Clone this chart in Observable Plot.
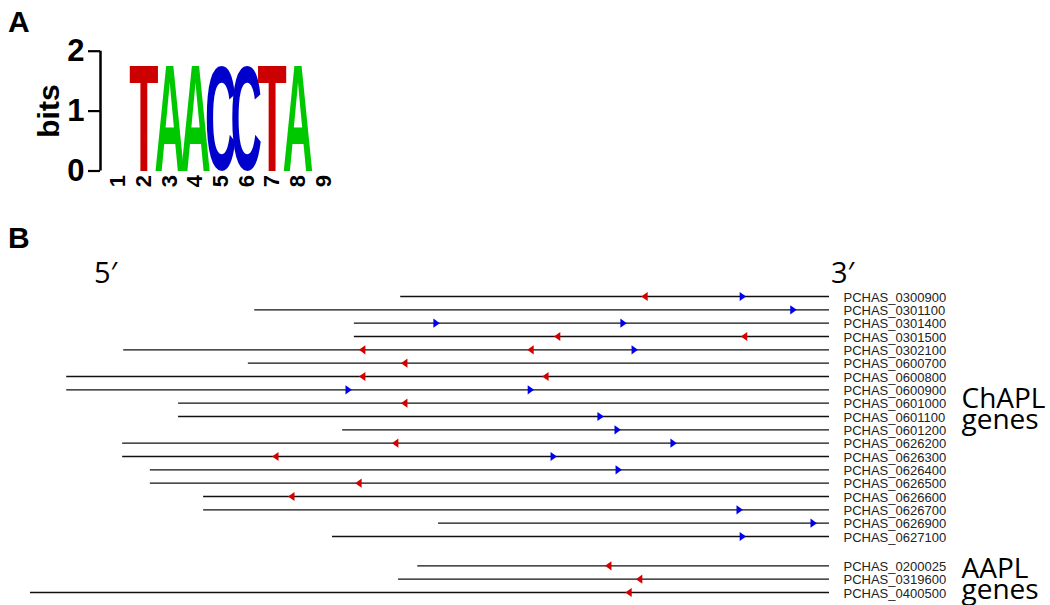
<!DOCTYPE html>
<html><head><meta charset="utf-8">
<script src="https://cdn.jsdelivr.net/npm/d3@7"></script>
<script src="https://cdn.jsdelivr.net/npm/@observablehq/plot@0.6"></script>
<style>
body{margin:0;background:#fff;}
#root{position:relative;width:1050px;height:605px;overflow:hidden;background:#fff;}
.abs{position:absolute;white-space:nowrap;}
.panel{font:bold 30px "Liberation Sans",Arial,sans-serif;line-height:30px;color:#000;}
.prime{font:29px "Open Sans",sans-serif;line-height:29px;color:#000;}
</style></head><body><div id="root"></div>
<script>
// ---------- Panel A: sequence logo ----------
const logoPositions = [1,2,3,4,5,6,7,8,9];
const logoLetterPos = [2,3,4,5,6,7,8];
const logoLetters   = ["T","A","A","C","C","T","A"];
const logoBits      = [1.77,1.77,1.77,1.76,1.76,1.77,1.77];
const bitTicks      = [0,1,2];

// ---------- Panel B: upstream regions and motif sites ----------
const geneNames = ["PCHAS_0300900","PCHAS_0301100","PCHAS_0301400","PCHAS_0301500","PCHAS_0302100","PCHAS_0600700","PCHAS_0600800","PCHAS_0600900","PCHAS_0601000","PCHAS_0601100","PCHAS_0601200","PCHAS_0626200","PCHAS_0626300","PCHAS_0626400","PCHAS_0626500","PCHAS_0626600","PCHAS_0626700","PCHAS_0626900","PCHAS_0627100","PCHAS_0200025","PCHAS_0319600","PCHAS_0400500"];
const geneGroups = ["ChAPL","ChAPL","ChAPL","ChAPL","ChAPL","ChAPL","ChAPL","ChAPL","ChAPL","ChAPL","ChAPL","ChAPL","ChAPL","ChAPL","ChAPL","ChAPL","ChAPL","ChAPL","ChAPL","AAPL","AAPL","AAPL"];
const geneStarts = [-805,-1079,-892,-892,-1325,-1091,-1432,-1432,-1222,-1222,-914,-1327,-1327,-1275,-1275,-1175,-1175,-734,-933,-773,-809,-1500];
const siteGene = ["PCHAS_0300900","PCHAS_0300900","PCHAS_0301100","PCHAS_0301400","PCHAS_0301400","PCHAS_0301500","PCHAS_0301500","PCHAS_0302100","PCHAS_0302100","PCHAS_0302100","PCHAS_0600700","PCHAS_0600800","PCHAS_0600800","PCHAS_0600900","PCHAS_0600900","PCHAS_0601000","PCHAS_0601100","PCHAS_0601200","PCHAS_0626200","PCHAS_0626200","PCHAS_0626300","PCHAS_0626300","PCHAS_0626400","PCHAS_0626500","PCHAS_0626600","PCHAS_0626700","PCHAS_0626900","PCHAS_0627100","PCHAS_0200025","PCHAS_0319600","PCHAS_0400500"];
const sitePos = [-347,-163,-68,-738,-387,-511,-160,-877,-561,-366,-798,-877,-533,-903,-561,-798,-430,-398,-815,-293,-1040,-518,-396,-884,-1010,-169,-30,-163,-415,-357,-377];
const siteStrand = ["-","+","+","+","+","-","-","-","-","+","-","-","-","+","+","-","+","+","-","+","-","+","+","-","-","+","+","+","-","-","-"];

const root = document.getElementById("root");
const SANS = '"Liberation Sans", Arial, sans-serif';

// ---------- build Panel A ----------
const letterColor = {A:"#00c800", C:"#0000cc", G:"#ffb300", T:"#cc0000"};
const logoData = logoLetters.map((letter,i)=>({letter, pos: logoLetterPos[i], bits: logoBits[i]}));

const plotA = Plot.plot({
  width: 360, height: 200,
  marginLeft: 100, marginRight: 19, marginTop: 50.7, marginBottom: 29.5,
  x: {domain: [0.3, 9.7], axis: null},
  y: {domain: [0, 2], axis: null},
  style: {fontFamily: SANS, fontWeight: "bold", color: "#000", background: "transparent", overflow: "visible"},
  marks: [
    Plot.axisY({ticks: bitTicks, tickSize: 12, tickPadding: 4, fontSize: 31, fontWeight: "bold", strokeWidth: 2.2, label: null, tickFormat: d => String(d)}),
    Plot.ruleX([0.3], {y1: 0, y2: 2, stroke: "#000", strokeWidth: 2.5}),
    Plot.text(logoPositions, {x: d => d, y: () => 0, text: d => String(d), rotate: -90, textAnchor: "end", dy: 4, fontSize: 22, fontWeight: "bold", fill: "#000"}),
    Plot.text(["bits"], {frameAnchor: "left", text: d => d, rotate: -90, textAnchor: "middle", lineAnchor: "middle", dx: -51, fontSize: 30, fontWeight: "bold", fill: "#000"}),
    Plot.text(logoData, {x: "pos", y: () => 0, text: "letter", fill: d => letterColor[d.letter], textAnchor: "start", fontSize: 100, fontWeight: "bold", ariaLabel: "logo"})
  ]
});
plotA.style.position = "absolute"; plotA.style.left = "0px"; plotA.style.top = "0px";
root.appendChild(plotA);

// stretch each letter glyph to fill its (position, bits) box
(function stretchLetters(){
  const xs = plotA.scale("x"), ys = plotA.scale("y");
  const ctx = document.createElement("canvas").getContext("2d");
  const FS = 100;
  ctx.font = `bold ${FS}px "Liberation Sans"`;
  let nodes = plotA.querySelectorAll('g[aria-label="logo"] text');
  if (!nodes.length) nodes = plotA.querySelectorAll('g[font-size="100"] text');
  nodes.forEach((el, i) => {
    const d = logoData[i];
    const m = ctx.measureText(d.letter);
    const L = m.actualBoundingBoxLeft, R = m.actualBoundingBoxRight;
    const A = m.actualBoundingBoxAscent, D = m.actualBoundingBoxDescent;
    const x0 = xs.apply(d.pos - 0.56), x1 = xs.apply(d.pos + 0.56);
    const y0 = ys.apply(d.bits), y1 = ys.apply(0);
    const sx = (x1 - x0) / (L + R), sy = (y1 - y0) / (A + D);
    el.setAttribute("x", 0); el.setAttribute("y", 0);
    el.removeAttribute("dy"); el.removeAttribute("dx");
    el.style.fontSize = FS + "px";
    el.style.fontFamily = '"Liberation Sans"';
    el.setAttribute("text-anchor", "start");
    el.setAttribute("transform", `translate(${x0},${y0}) scale(${sx},${sy}) translate(${L},${A})`);
  });
})();

// ---------- build Panel B ----------
const GAP = 1.2;
const genes = geneNames.map((name,i)=>({
  name, group: geneGroups[i], start: geneStarts[i],
  row: i + (geneGroups[i] === "AAPL" ? GAP : 0)
}));
const rowOf = new Map(genes.map(g => [g.name, g.row]));
const sites = siteGene.map((g,i)=>({gene: g, pos: sitePos[i], strand: siteStrand[i], row: rowOf.get(g)}));
const groupLabels = ["ChAPL","AAPL"].map(gr => {
  const rows = genes.filter(g => g.group === gr).map(g => g.row);
  return {group: gr, row: d3.mean(rows), text: gr + "\ngenes"};
});

const triRight = {draw(c){ c.moveTo(-3,-4.6); c.lineTo(3.4,0); c.lineTo(-3,4.6); c.closePath(); }};
const triLeft  = {draw(c){ c.moveTo(3,-4.6); c.lineTo(-3.4,0); c.lineTo(3,4.6); c.closePath(); }};

const plotB = Plot.plot({
  width: 1050, height: 390, margin: 0,
  x: {domain: [-1500, 0], range: [30, 829], axis: null},
  y: {domain: [0, 22.2], range: [81, 377], axis: null},
  style: {fontFamily: SANS, color: "#000", background: "transparent", overflow: "visible"},
  marks: [
    Plot.ruleY(genes, {y: "row", x1: "start", x2: () => 0, stroke: "#111", strokeWidth: 1.4}),
    Plot.dot(sites.filter(d => d.strand === "-"), {x: "pos", y: "row", symbol: triLeft, fill: "#d40000"}),
    Plot.dot(sites.filter(d => d.strand === "+"), {x: "pos", y: "row", symbol: triRight, fill: "#0000ee"}),
    Plot.text(genes, {x: () => 0, y: "row", text: "name", textAnchor: "start", dx: 14, dy: 1, fontSize: 13, fontFamily: SANS, fill: "#222"}),
    Plot.text(groupLabels.filter(d => d.group === "ChAPL"), {x: () => 0, y: "row", text: "text", textAnchor: "start", dx: 132, dy: -4.5, lineHeight: 0.75, fontSize: 28, fontFamily: '"Open Sans", sans-serif', fill: "#000"}),
    Plot.text(groupLabels.filter(d => d.group === "AAPL"), {x: () => 0, y: "row", text: "text", textAnchor: "start", dx: 132, dy: 2.5, lineHeight: 0.75, fontSize: 28, fontFamily: '"Open Sans", sans-serif', fill: "#000"})
  ]
});
plotB.style.position = "absolute"; plotB.style.left = "0px"; plotB.style.top = "215px";
root.appendChild(plotB);

// panel letters and strand ends
function addLabel(text, cls, left, top){
  const d = document.createElement("div");
  d.className = "abs " + cls; d.textContent = text;
  d.style.left = left + "px"; d.style.top = top + "px";
  root.appendChild(d);
}
addLabel("A", "panel", 8, 6.6);
addLabel("B", "panel", 8, 222.6);
addLabel("5\u2032", "prime", 94, 257);
addLabel("3\u2032", "prime", 831, 257);
</script>
</body></html>
